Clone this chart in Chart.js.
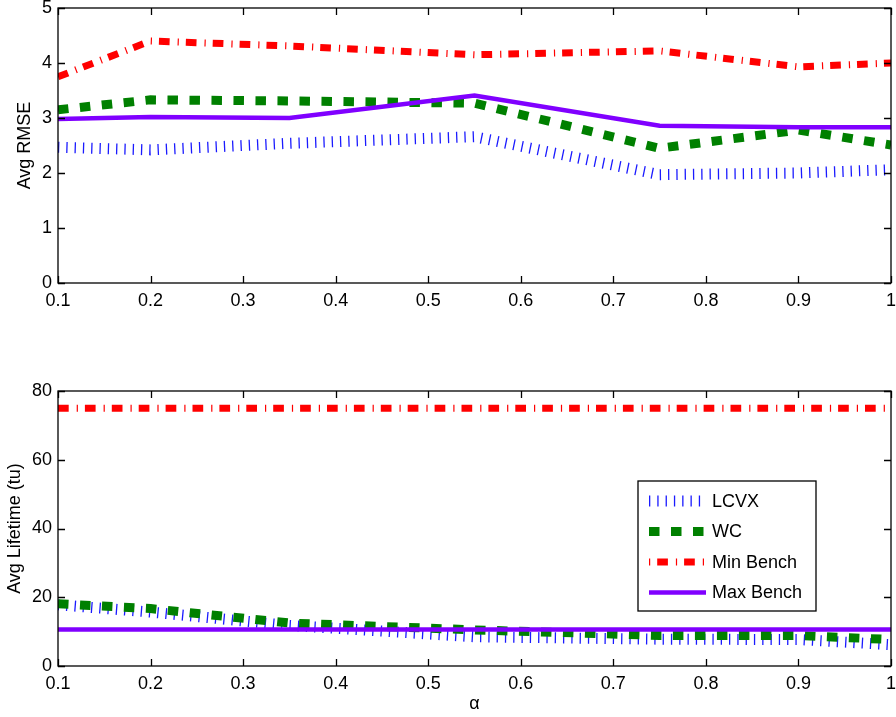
<!DOCTYPE html>
<html lang="en">
<head>
<meta charset="UTF-8">
<title>Avg RMSE / Avg Lifetime vs α</title>
<script src="https://cdn.jsdelivr.net/npm/chart.js"></script>
<style>
  html, body { margin: 0; padding: 0; background: #fff; }
  #wrap { position: relative; width: 896px; height: 717px; }
  canvas { position: absolute; left: 0; }
  #top { top: 0; }
  #bottom { top: 340px; }
</style>
</head>
<body>
<div id="wrap">
  <canvas id="top" width="896" height="340"></canvas>
  <canvas id="bottom" width="896" height="377"></canvas>
</div>
<script>
// data
const alpha = [0.1, 0.2, 0.35, 0.55, 0.75, 0.9, 1.0];
const seriesNames = ['LCVX', 'WC', 'Min Bench', 'Max Bench'];

const rmseLCVX = [2.47, 2.42, 2.54, 2.66, 1.97, 2.00, 2.06];
const rmseWC   = [3.15, 3.33, 3.31, 3.27, 2.45, 2.78, 2.51];
const rmseMin  = [3.75, 4.40, 4.31, 4.15, 4.22, 3.93, 4.00];
const rmseMax  = [2.98, 3.02, 3.00, 3.41, 2.86, 2.83, 2.83];

const lifeLCVX = [17.8, 15.7, 11.8, 8.5, 7.8, 7.7, 6.2];
const lifeWC   = [18.1, 16.7, 12.5, 10.5, 8.9, 8.9, 7.7];
const lifeMin  = [75, 75, 75, 75, 75, 75, 75];
const lifeMax  = [10.6, 10.6, 10.6, 10.6, 10.6, 10.6, 10.6];

const alphaTicks = [0.1, 0.2, 0.3, 0.4, 0.5, 0.6, 0.7, 0.8, 0.9, 1];
const rmseTicks = [0, 1, 2, 3, 4, 5];
const lifeTicks = [0, 20, 40, 60, 80];

Chart.defaults.font.family = '"Liberation Sans", Arial, Helvetica, sans-serif';
Chart.defaults.font.size = 18;
Chart.defaults.color = '#000';

const styles = [
  { borderColor: '#1a1aff', borderWidth: 11, borderDash: [1.3, 7], order: 4 },
  { borderColor: '#008000', borderWidth: 9, borderDash: [10.5, 11.5], order: 3 },
  { borderColor: '#ff0000', borderWidth: 7, borderDash: [10.7, 8, 1.2, 7], order: 2, legendOffset: 18.7 },
  { borderColor: '#8000ff', borderWidth: 4.5, borderDash: [], order: 1 }
];

function makeSets(cols) {
  return cols.map((vals, i) => Object.assign({
    label: seriesNames[i],
    data: vals.map((v, j) => ({ x: alpha[j], y: v })),
    pointRadius: 0,
    tension: 0,
    fill: false,
    clip: 0,
    borderCapStyle: 'butt'
  }, styles[i]));
}

// MATLAB style box with inward ticks
const boxAxes = {
  id: 'boxAxes',
  afterDatasetsDraw(chart) {
    const { ctx, chartArea: a, scales: { x, y } } = chart;
    const t = 7;
    ctx.save();
    ctx.strokeStyle = '#000';
    ctx.lineWidth = 1.3;
    ctx.setLineDash([]);
    ctx.beginPath();
    x.ticks.forEach(tk => {
      const px = Math.round(x.getPixelForValue(tk.value)) + 0.5;
      ctx.moveTo(px, a.bottom); ctx.lineTo(px, a.bottom - t);
      ctx.moveTo(px, a.top); ctx.lineTo(px, a.top + t);
    });
    y.ticks.forEach(tk => {
      const py = Math.round(y.getPixelForValue(tk.value)) + 0.5;
      ctx.moveTo(a.left, py); ctx.lineTo(a.left + t, py);
      ctx.moveTo(a.right, py); ctx.lineTo(a.right - t, py);
    });
    ctx.stroke();
    ctx.strokeRect(a.left, a.top, a.right - a.left, a.bottom - a.top);
    ctx.restore();
  }
};

const boxLegend = {
  id: 'boxLegend',
  afterDraw(chart, args, o) {
    if (!o.show) return;
    const { ctx } = chart;
    ctx.save();
    ctx.fillStyle = '#fff';
    ctx.fillRect(o.x, o.y, o.w, o.h);
    ctx.strokeStyle = '#000';
    ctx.lineWidth = 1.3;
    ctx.strokeRect(o.x, o.y, o.w, o.h);
    chart.data.datasets.forEach((ds, i) => {
      const y = o.y + o.first + i * o.row;
      ctx.save();
      ctx.strokeStyle = ds.borderColor;
      ctx.lineWidth = ds.borderWidth;
      ctx.lineCap = 'butt';
      ctx.setLineDash(ds.borderDash);
      ctx.lineDashOffset = ds.legendOffset || 0;
      ctx.beginPath();
      ctx.moveTo(o.x + o.lineStart, y);
      ctx.lineTo(o.x + o.lineStart + o.lineLen, y);
      ctx.stroke();
      ctx.restore();
      ctx.fillStyle = '#000';
      ctx.font = '18px "Liberation Sans", Arial, sans-serif';
      ctx.textBaseline = 'middle';
      ctx.fillText(ds.label, o.x + o.textStart, y + 1);
    });
    ctx.restore();
  }
};

function makeChart(id, cols, yTicks, yTitle, yTitlePad, xTitle, axisH, padTop, legend) {
  return new Chart(document.getElementById(id), {
    type: 'line',
    data: { datasets: makeSets(cols) },
    plugins: [boxAxes, boxLegend],
    options: {
      responsive: false,
      maintainAspectRatio: false,
      animation: false,
      devicePixelRatio: 1,
      layout: { padding: { top: padTop, right: 5, left: 0, bottom: 0 } },
      plugins: {
        legend: { display: false },
        tooltip: { enabled: false },
        boxLegend: legend
      },
      scales: {
        x: {
          type: 'linear',
          min: alphaTicks[0],
          max: alphaTicks[alphaTicks.length - 1],
          grid: { display: false, drawTicks: false },
          border: { display: false },
          afterBuildTicks: s => { s.ticks = alphaTicks.map(v => ({ value: v })); },
          ticks: { autoSkip: false, maxRotation: 0, padding: 7, callback: v => String(v) },
          title: { display: !!xTitle, text: xTitle, padding: { top: 0, bottom: 2 } },
          afterFit: s => { s.height = axisH; s.paddingLeft = 0; s.paddingRight = 0; }
        },
        y: {
          min: yTicks[0],
          max: yTicks[yTicks.length - 1],
          grid: { display: false, drawTicks: false },
          border: { display: false },
          afterBuildTicks: s => { s.ticks = yTicks.map(v => ({ value: v })); },
          ticks: { padding: 6, callback: v => String(v) },
          title: { display: true, text: yTitle, padding: { top: yTitlePad, bottom: 0 } },
          afterFit: s => { s.width = 58; s.paddingTop = 0; s.paddingBottom = 0; }
        }
      }
    }
  });
}

makeChart('top', [rmseLCVX, rmseWC, rmseMin, rmseMax], rmseTicks, 'Avg RMSE', 14, '', 57, 8, { show: false });
makeChart('bottom', [lifeLCVX, lifeWC, lifeMin, lifeMax], lifeTicks, 'Avg Lifetime (tu)', 4, 'α', 51, 51, {
  show: true, x: 638, y: 141, w: 178, h: 130, first: 20, row: 30.5, lineStart: 11, lineLen: 57, textStart: 74
});
</script>
</body>
</html>
